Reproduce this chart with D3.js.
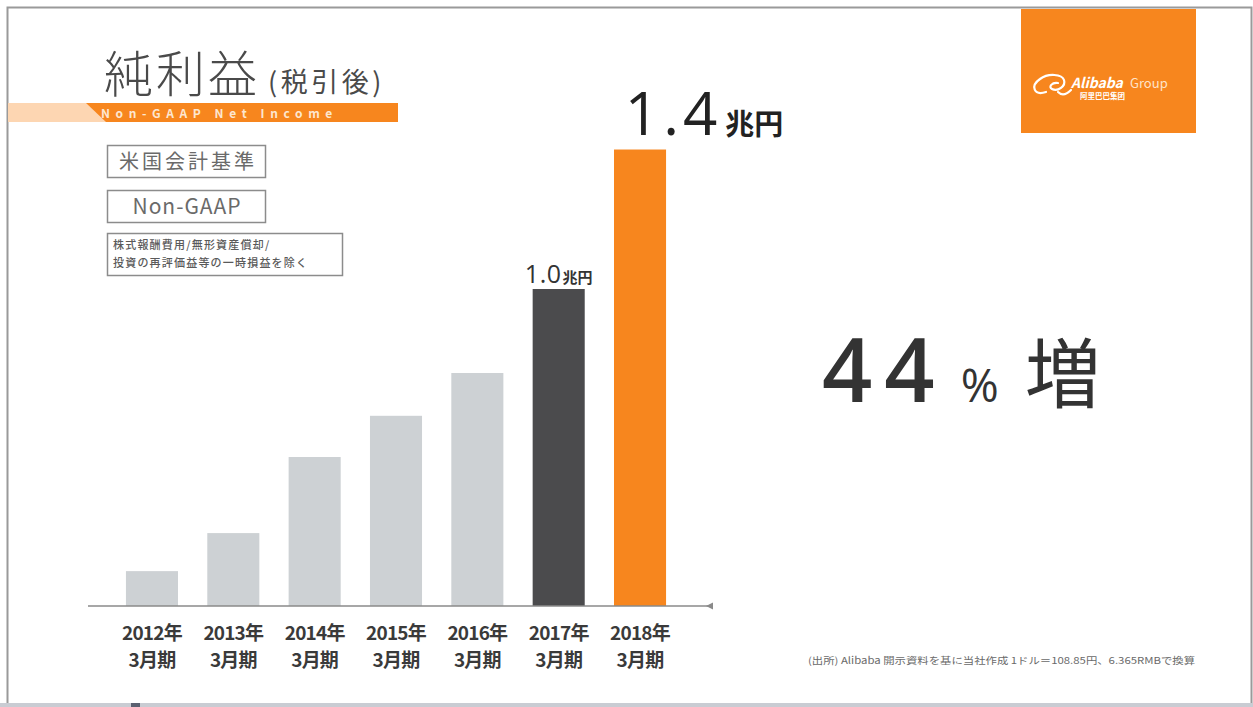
<!DOCTYPE html>
<html lang="ja">
<head>
<meta charset="utf-8">
<script src="https://cdn.jsdelivr.net/npm/d3@7/dist/d3.min.js"></script>
<style>
  html, body { margin: 0; padding: 0; background: #ffffff; }
  svg { display: block; }
  text { font-family: "Noto Sans CJK JP", "Noto Sans", sans-serif; }
</style>
</head>
<body>
<svg id="chart" width="1253" height="707"></svg>
<script>
// Fiscal years (ending March) and non-GAAP net income, trillion yen
const years = ["2012年", "2013年", "2014年", "2015年", "2016年", "2017年", "2018年"];
const periods = ["3月期", "3月期", "3月期", "3月期", "3月期", "3月期", "3月期"];
const netIncome = [0.11, 0.23, 0.47, 0.60, 0.735, 1.0, 1.44];
const labelledYears = ["2017年", "2018年"];
const unit = "兆円";
const growthPct = "44";

const W = 1253, H = 707;
const svg = d3.select("#chart");

const ORANGE = "#f7861e";
const DARK = "#4b4b4d";
const LIGHT = "#cdd1d4";

// ---- slide frame ----
svg.append("rect").attr("x", 0).attr("y", 0).attr("width", W).attr("height", H).attr("fill", "#fff");
svg.append("rect").attr("x", 0).attr("y", 703).attr("width", W).attr("height", 4).attr("fill", "#c9ccd3");
svg.append("rect").attr("x", 131).attr("y", 703).attr("width", 9).attr("height", 4).attr("fill", "#5a6070");
svg.append("path")
  .attr("d", `M7.5,703 V7.5 H1251.5 V703`)
  .attr("fill", "none").attr("stroke", "#9a9a9a").attr("stroke-width", 2);

// ---- Alibaba logo block ----
const logo = svg.append("g");
logo.append("rect").attr("x", 1021).attr("y", 9).attr("width", 175).attr("height", 124).attr("fill", ORANGE);
logo.append("path")
  .attr("d", "M1046,92 C1034,96 1030,86 1040,79 C1048,73 1062,74 1064,80 C1066,86 1058,92 1052,89 C1048,87 1052,82 1058,83 M1058,92 C1062,96 1067,94 1071,90")
  .attr("fill", "none").attr("stroke", "#fff").attr("stroke-width", 2.2).attr("stroke-linecap", "round");
logo.append("text").attr("x", 1071).attr("y", 88)
  .attr("fill", "#fff").attr("font-size", 14).attr("font-weight", 700).attr("font-style", "italic")
  .attr("font-family", "Lato, 'Noto Sans', sans-serif").text("Alibaba");
logo.append("text").attr("x", 1130).attr("y", 88)
  .attr("fill", "#ffe3c8").attr("font-size", 13).attr("font-family", "Lato, 'Noto Sans', sans-serif").text("Group");
logo.append("text").attr("x", 1080).attr("y", 99)
  .attr("fill", "#fff").attr("font-size", 7.5).attr("font-weight", 700).text("阿里巴巴集团");

// ---- title ----
const title = svg.append("text").attr("x", 104).attr("y", 92).attr("fill", "#4a4a4a");
title.append("tspan").attr("font-size", 49).attr("font-weight", 300).attr("letter-spacing", 3).text("純利益");
title.append("tspan").attr("dx", 8).attr("font-size", 27).attr("font-weight", 400).attr("letter-spacing", 3.5).text("(税引後)");

// orange ribbon under the title
svg.append("rect").attr("x", 8).attr("y", 103).attr("width", 100).attr("height", 19).attr("fill", "#fdd6b2");
svg.append("path").attr("d", "M86,103 H398 V122 H106 Z").attr("fill", ORANGE);
svg.append("text").attr("x", 101).attr("y", 118)
  .attr("fill", "#fde6d0").attr("font-size", 12).attr("font-weight", 700).attr("letter-spacing", 5.6)
  .attr("font-family", "'Open Sans', 'Noto Sans', sans-serif")
  .text("Non-GAAP Net Income");

// ---- basis boxes ----
const boxes = svg.append("g");
boxes.append("rect").attr("x", 107.5).attr("y", 145.5).attr("width", 158).attr("height", 32)
  .attr("fill", "#fff").attr("stroke", "#8c8c8c").attr("stroke-width", 1.5);
boxes.append("text").attr("x", 188).attr("y", 169).attr("text-anchor", "middle")
  .attr("fill", "#6a6a6a").attr("font-size", 20).attr("letter-spacing", 3).text("米国会計基準");
boxes.append("rect").attr("x", 107.5).attr("y", 190.5).attr("width", 158).attr("height", 32)
  .attr("fill", "#fff").attr("stroke", "#8c8c8c").attr("stroke-width", 1.5);
boxes.append("text").attr("x", 187).attr("y", 214).attr("text-anchor", "middle")
  .attr("fill", "#6a6a6a").attr("font-size", 21).attr("letter-spacing", 1)
  .attr("font-family", "'Open Sans', 'Noto Sans', sans-serif")
  .text("Non-GAAP");
boxes.append("rect").attr("x", 107.5).attr("y", 233.5).attr("width", 235).attr("height", 42)
  .attr("fill", "#fff").attr("stroke", "#8c8c8c").attr("stroke-width", 1.5);
boxes.append("text").attr("x", 113).attr("y", 249)
  .attr("fill", "#5a5a5a").attr("font-size", 11).attr("font-weight", 500).attr("letter-spacing", 1.2)
  .text("株式報酬費用/無形資産償却/");
boxes.append("text").attr("x", 113).attr("y", 267)
  .attr("fill", "#5a5a5a").attr("font-size", 11).attr("font-weight", 500).attr("letter-spacing", 1.2)
  .text("投資の再評価益等の一時損益を除く");

// ---- bar chart ----
const x = d3.scaleBand().domain(years).range([111.3, 680.7]).paddingInner(0.36).paddingOuter(0.18);
const y = d3.scaleLinear().domain([0, 1.5]).range([606, 606 - 1.5 * 317]);
const color = d3.scaleOrdinal().domain(years)
  .range(years.map((yr, i) => i === years.length - 1 ? ORANGE : i === years.length - 2 ? DARK : LIGHT));

const data = years.map((yr, i) => ({ year: yr, period: periods[i], value: netIncome[i] }));

svg.append("g").selectAll("rect").data(data).join("rect")
  .attr("x", d => x(d.year))
  .attr("y", d => y(d.value))
  .attr("width", x.bandwidth())
  .attr("height", d => y(0) - y(d.value))
  .attr("fill", d => color(d.year));

// baseline axis with a small arrow tip
const axis = svg.append("g").attr("transform", `translate(0,${y(0)})`)
  .call(d3.axisBottom(x).tickSize(0).tickFormat(""));
axis.select(".domain").attr("d", "M88,0 H712").attr("stroke", "#8a8a8a").attr("stroke-width", 1.6);
axis.append("path").attr("d", "M706,0 L713,-3.5 L713,3.5 Z").attr("fill", "#8a8a8a");

// category labels (two lines)
const cat = svg.append("g").selectAll("g").data(data).join("g")
  .attr("transform", d => `translate(${x(d.year) + x.bandwidth() / 2},0)`);
cat.append("text").attr("y", 640).attr("text-anchor", "middle")
  .attr("fill", "#3a3a3a").attr("font-size", 19).attr("font-weight", 700).attr("letter-spacing", -0.8)
  .text(d => d.year);
cat.append("text").attr("y", 667).attr("text-anchor", "middle")
  .attr("fill", "#3a3a3a").attr("font-size", 19).attr("font-weight", 700).attr("letter-spacing", -0.8)
  .text(d => d.period);

// value labels above the highlighted bars
const fmt = d3.format(".1f");
const labelStyle = {
  "2017年": { num: 25, unit: 15, gap: 6, ls: 0.5, shift: 0, udx: 1, color: "#333" },
  "2018年": { num: 60, unit: 29, gap: 15, ls: 4, shift: 64, udx: 4, color: "#222" }
};
data.filter(d => labelledYears.includes(d.year)).forEach(d => {
  const s = labelStyle[d.year];
  const t = svg.append("text")
    .attr("x", x(d.year) + x.bandwidth() / 2 + s.shift)
    .attr("y", y(d.value) - s.gap)
    .attr("text-anchor", "middle").attr("fill", s.color);
  t.append("tspan").attr("font-size", s.num).attr("font-weight", 500).attr("letter-spacing", s.ls)
    .attr("font-family", "'Open Sans', 'Noto Sans', sans-serif").text(fmt(d.value));
  t.append("tspan").attr("dx", s.udx).attr("font-size", s.unit).attr("font-weight", 700).text(unit);
});

// ---- growth callout ----
const growth = svg.append("text").attr("x", 822).attr("y", 402).attr("fill", "#333");
growth.append("tspan").attr("font-size", 88).attr("font-weight", 600).attr("letter-spacing", 12)
  .attr("font-family", "'Open Sans', 'Noto Sans', sans-serif").text(growthPct);
growth.append("tspan").attr("dx", 14).attr("font-size", 46).attr("font-weight", 400)
  .attr("font-family", "'Open Sans', 'Noto Sans', sans-serif").text("%");
growth.append("tspan").attr("dx", 26).attr("font-size", 76).attr("font-weight", 400).text("増");

// ---- source note ----
svg.append("text").attr("x", 808).attr("y", 664)
  .attr("fill", "#6a6a6a").attr("font-size", 9.5)
  .attr("textLength", 387).attr("lengthAdjust", "spacingAndGlyphs")
  .text("(出所) Alibaba 開示資料を基に当社作成 1ドル＝108.85円、6.365RMBで換算");
</script>
</body>
</html>
